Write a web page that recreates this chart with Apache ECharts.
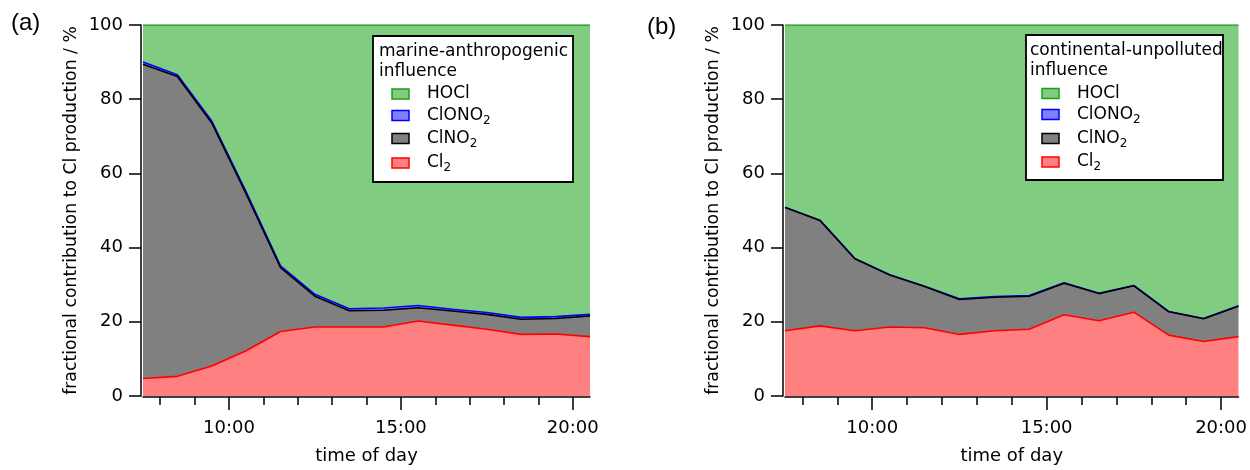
<!DOCTYPE html>
<html>
<head>
<meta charset="utf-8">
<script src="https://cdn.jsdelivr.net/npm/echarts@6/dist/echarts.min.js"></script>
<style>
  html, body { margin: 0; padding: 0; background: #ffffff; }
  #chart { width: 1250px; height: 470px; }
</style>
</head>
<body>
<div id="chart"></div>
<script>
// Time of day (hours, half-hour bin centres)
const hours = [7.5, 8.5, 9.5, 10.5, 11.5, 12.5, 13.5, 14.5, 15.5, 16.5, 17.5, 18.5, 19.5, 20.5];
const majorHours = [10, 15, 20];
const minorHours = [8, 9, 10, 11, 12, 13, 14, 15, 16, 17, 18, 19, 20];

// (a) marine-anthropogenic influence: fractional contribution (%)
const marineCl2    = [4.7, 5.3, 8.1, 12.2, 17.4, 18.6, 18.6, 18.6, 20.2, 19.1, 18.0, 16.6, 16.7, 16.0];
const marineClNO2  = [84.7, 80.8, 65.5, 42.3, 17.2, 8.3, 4.4, 4.5, 3.6, 3.8, 4.0, 4.1, 4.2, 5.6];
const marineClONO2 = [0.6, 0.5, 0.5, 0.5, 0.5, 0.5, 0.5, 0.6, 0.6, 0.5, 0.5, 0.5, 0.5, 0.4];
const marineHOCl   = [10.0, 13.4, 25.9, 45.0, 64.9, 72.6, 76.5, 76.3, 75.6, 76.6, 77.5, 78.8, 78.6, 78.0];

// (b) continental-unpolluted influence: fractional contribution (%)
const contCl2    = [17.6, 18.9, 17.6, 18.6, 18.4, 16.6, 17.6, 18.0, 21.9, 20.3, 22.6, 16.4, 14.7, 16.0];
const contClNO2  = [33.2, 28.4, 19.4, 14.0, 11.1, 9.4, 9.0, 8.9, 8.5, 7.3, 7.1, 6.3, 6.1, 8.2];
const contClONO2 = [0.1, 0.1, 0.1, 0.1, 0.1, 0.2, 0.2, 0.2, 0.1, 0.1, 0.1, 0.1, 0.1, 0.1];
const contHOCl   = [49.1, 52.6, 62.9, 67.3, 70.4, 73.8, 73.2, 72.9, 69.5, 72.3, 70.2, 77.2, 79.1, 75.7];

const speciesNames  = ['HOCl', 'ClONO2', 'ClNO2', 'Cl2'];
const speciesLabels = ['HOCl', 'ClONO{sub|2}', 'ClNO{sub|2}', 'Cl{sub|2}'];
const panelHeaders  = [['marine-anthropogenic', 'influence'], ['continental-unpolluted', 'influence']];
const panelTags     = ['(a)', '(b)'];
const yAxisTitle = 'fractional contribution to Cl production / %';
const xAxisTitle = 'time of day';

const FONT = 'DejaVu Sans';
const fills = { HOCl: '#80cc80', ClONO2: '#8080ff', ClNO2: '#808080', Cl2: '#ff8080' };
const edges = { HOCl: '#1aa01a', ClONO2: '#0000ff', ClNO2: '#000000', Cl2: '#ff0000' };

const grids = [
  { left: 143, right: 660, top: 25, bottom: 69 },
  { left: 785, right: 10.5, top: 25, bottom: 69 }
];

function yAxisFor(g) {
  return {
    type: 'value', gridIndex: g, min: 0, max: 100, interval: 20, offset: 2,
    axisLine: { show: true, lineStyle: { color: '#000', width: 1.5 } },
    axisTick: { show: true, length: 12, lineStyle: { color: '#000', width: 1.5 } },
    axisLabel: { margin: 18, color: '#000', fontSize: 18, fontFamily: FONT },
    splitLine: { show: false },
    name: yAxisTitle, nameLocation: 'middle', nameGap: 61,
    nameTextStyle: { color: '#000', fontSize: 17.3, fontFamily: FONT }
  };
}
// Category axis carrying the evenly spaced half-hour samples (not drawn)
function xDataFor(g) {
  return {
    type: 'category', gridIndex: g, data: hours, boundaryGap: false, show: false
  };
}
// Time-of-day scale with labelled ticks every five hours
function xMajorFor(g) {
  return {
    type: 'value', gridIndex: g, min: 7.5, max: 20.5, position: 'bottom', offset: 1,
    axisLine: { show: true, onZero: false, lineStyle: { color: '#000', width: 1.5 } },
    axisTick: { show: true, length: 13, customValues: majorHours, lineStyle: { color: '#000', width: 1.5 } },
    axisLabel: { customValues: majorHours, margin: 22, color: '#000', fontSize: 18, fontFamily: FONT,
                 formatter: v => v + ':00' },
    splitLine: { show: false },
    name: xAxisTitle, nameLocation: 'middle', nameGap: 50,
    nameTextStyle: { color: '#000', fontSize: 18, fontFamily: FONT }
  };
}
// Hourly minor ticks
function xMinorFor(g) {
  return {
    type: 'value', gridIndex: g, min: 7.5, max: 20.5, position: 'bottom', offset: 1,
    axisLine: { show: false, onZero: false },
    axisTick: { show: true, length: 8, customValues: minorHours, lineStyle: { color: '#000', width: 1.5 } },
    axisLabel: { show: false },
    splitLine: { show: false }
  };
}

function areaSeries(name, values, xIdx, yIdx, stack, z) {
  return {
    name: name, type: 'line', stack: stack, xAxisIndex: xIdx, yAxisIndex: yIdx,
    data: values,
    showSymbol: false, symbol: 'none', z: z,
    lineStyle: { color: edges[name], width: 1.6 },
    areaStyle: { color: fills[name], opacity: 1 },
    emphasis: { disabled: true }, silent: true
  };
}

function panelSeries(p, cl2, clno2, clono2, hocl) {
  const xIdx = p * 3, yIdx = p, st = 'stack' + p;
  return [
    areaSeries('Cl2', cl2, xIdx, yIdx, st, 8),
    areaSeries('ClNO2', clno2, xIdx, yIdx, st, 7),
    areaSeries('ClONO2', clono2, xIdx, yIdx, st, 6),
    areaSeries('HOCl', hocl, xIdx, yIdx, st, 5)
  ];
}

const subRich = {
  sub: { fontSize: 12, fontFamily: FONT, padding: [10, 0, 0, 0], fill: '#000' }
};

function legendBox(p, box, textX, swatchX, textItemX, headerYs, rowYs) {
  const els = [{
    type: 'rect', z: 100,
    shape: { x: box[0], y: box[1], width: box[2], height: box[3] },
    style: { fill: '#fff', stroke: '#000', lineWidth: 1.8 }
  }];
  panelHeaders[p].forEach((t, i) => {
    els.push({ type: 'text', z: 101, x: textX, y: headerYs[i],
      style: { text: t, fontSize: 17, fontFamily: FONT, fill: '#000', verticalAlign: 'middle' } });
  });
  speciesNames.forEach((n, i) => {
    els.push({ type: 'rect', z: 101,
      shape: { x: swatchX, y: rowYs[i] - 5, width: 17, height: 10 },
      style: { fill: fills[n], stroke: edges[n], lineWidth: 1.5 } });
    els.push({ type: 'text', z: 101, x: textItemX, y: rowYs[i],
      style: { text: speciesLabels[i], fontSize: 17, fontFamily: FONT, fill: '#000',
               verticalAlign: 'middle', rich: subRich } });
  });
  return els;
}

const graphics = [
  { type: 'text', x: 11, y: 11, style: { text: panelTags[0], fontSize: 24, fontFamily: 'Liberation Sans', fill: '#000' } },
  { type: 'text', x: 647, y: 15, style: { text: panelTags[1], fontSize: 24, fontFamily: 'Liberation Sans', fill: '#000' } }
].concat(
  legendBox(0, [373, 36, 200, 146], 379, 392, 427, [52, 72], [94, 115.5, 138.5, 163]),
  legendBox(1, [1026, 35, 197, 145], 1030, 1042, 1077, [51, 71], [93.5, 114.5, 138.5, 162])
);

const chart = echarts.init(document.getElementById('chart'), null, { renderer: 'canvas' });
chart.setOption({
  animation: false,
  backgroundColor: '#ffffff',
  grid: grids,
  xAxis: [xDataFor(0), xMajorFor(0), xMinorFor(0), xDataFor(1), xMajorFor(1), xMinorFor(1)],
  yAxis: [yAxisFor(0), yAxisFor(1)],
  series: [].concat(
    panelSeries(0, marineCl2, marineClNO2, marineClONO2, marineHOCl),
    panelSeries(1, contCl2, contClNO2, contClONO2, contHOCl)
  ),
  graphic: graphics
});
</script>
</body>
</html>
